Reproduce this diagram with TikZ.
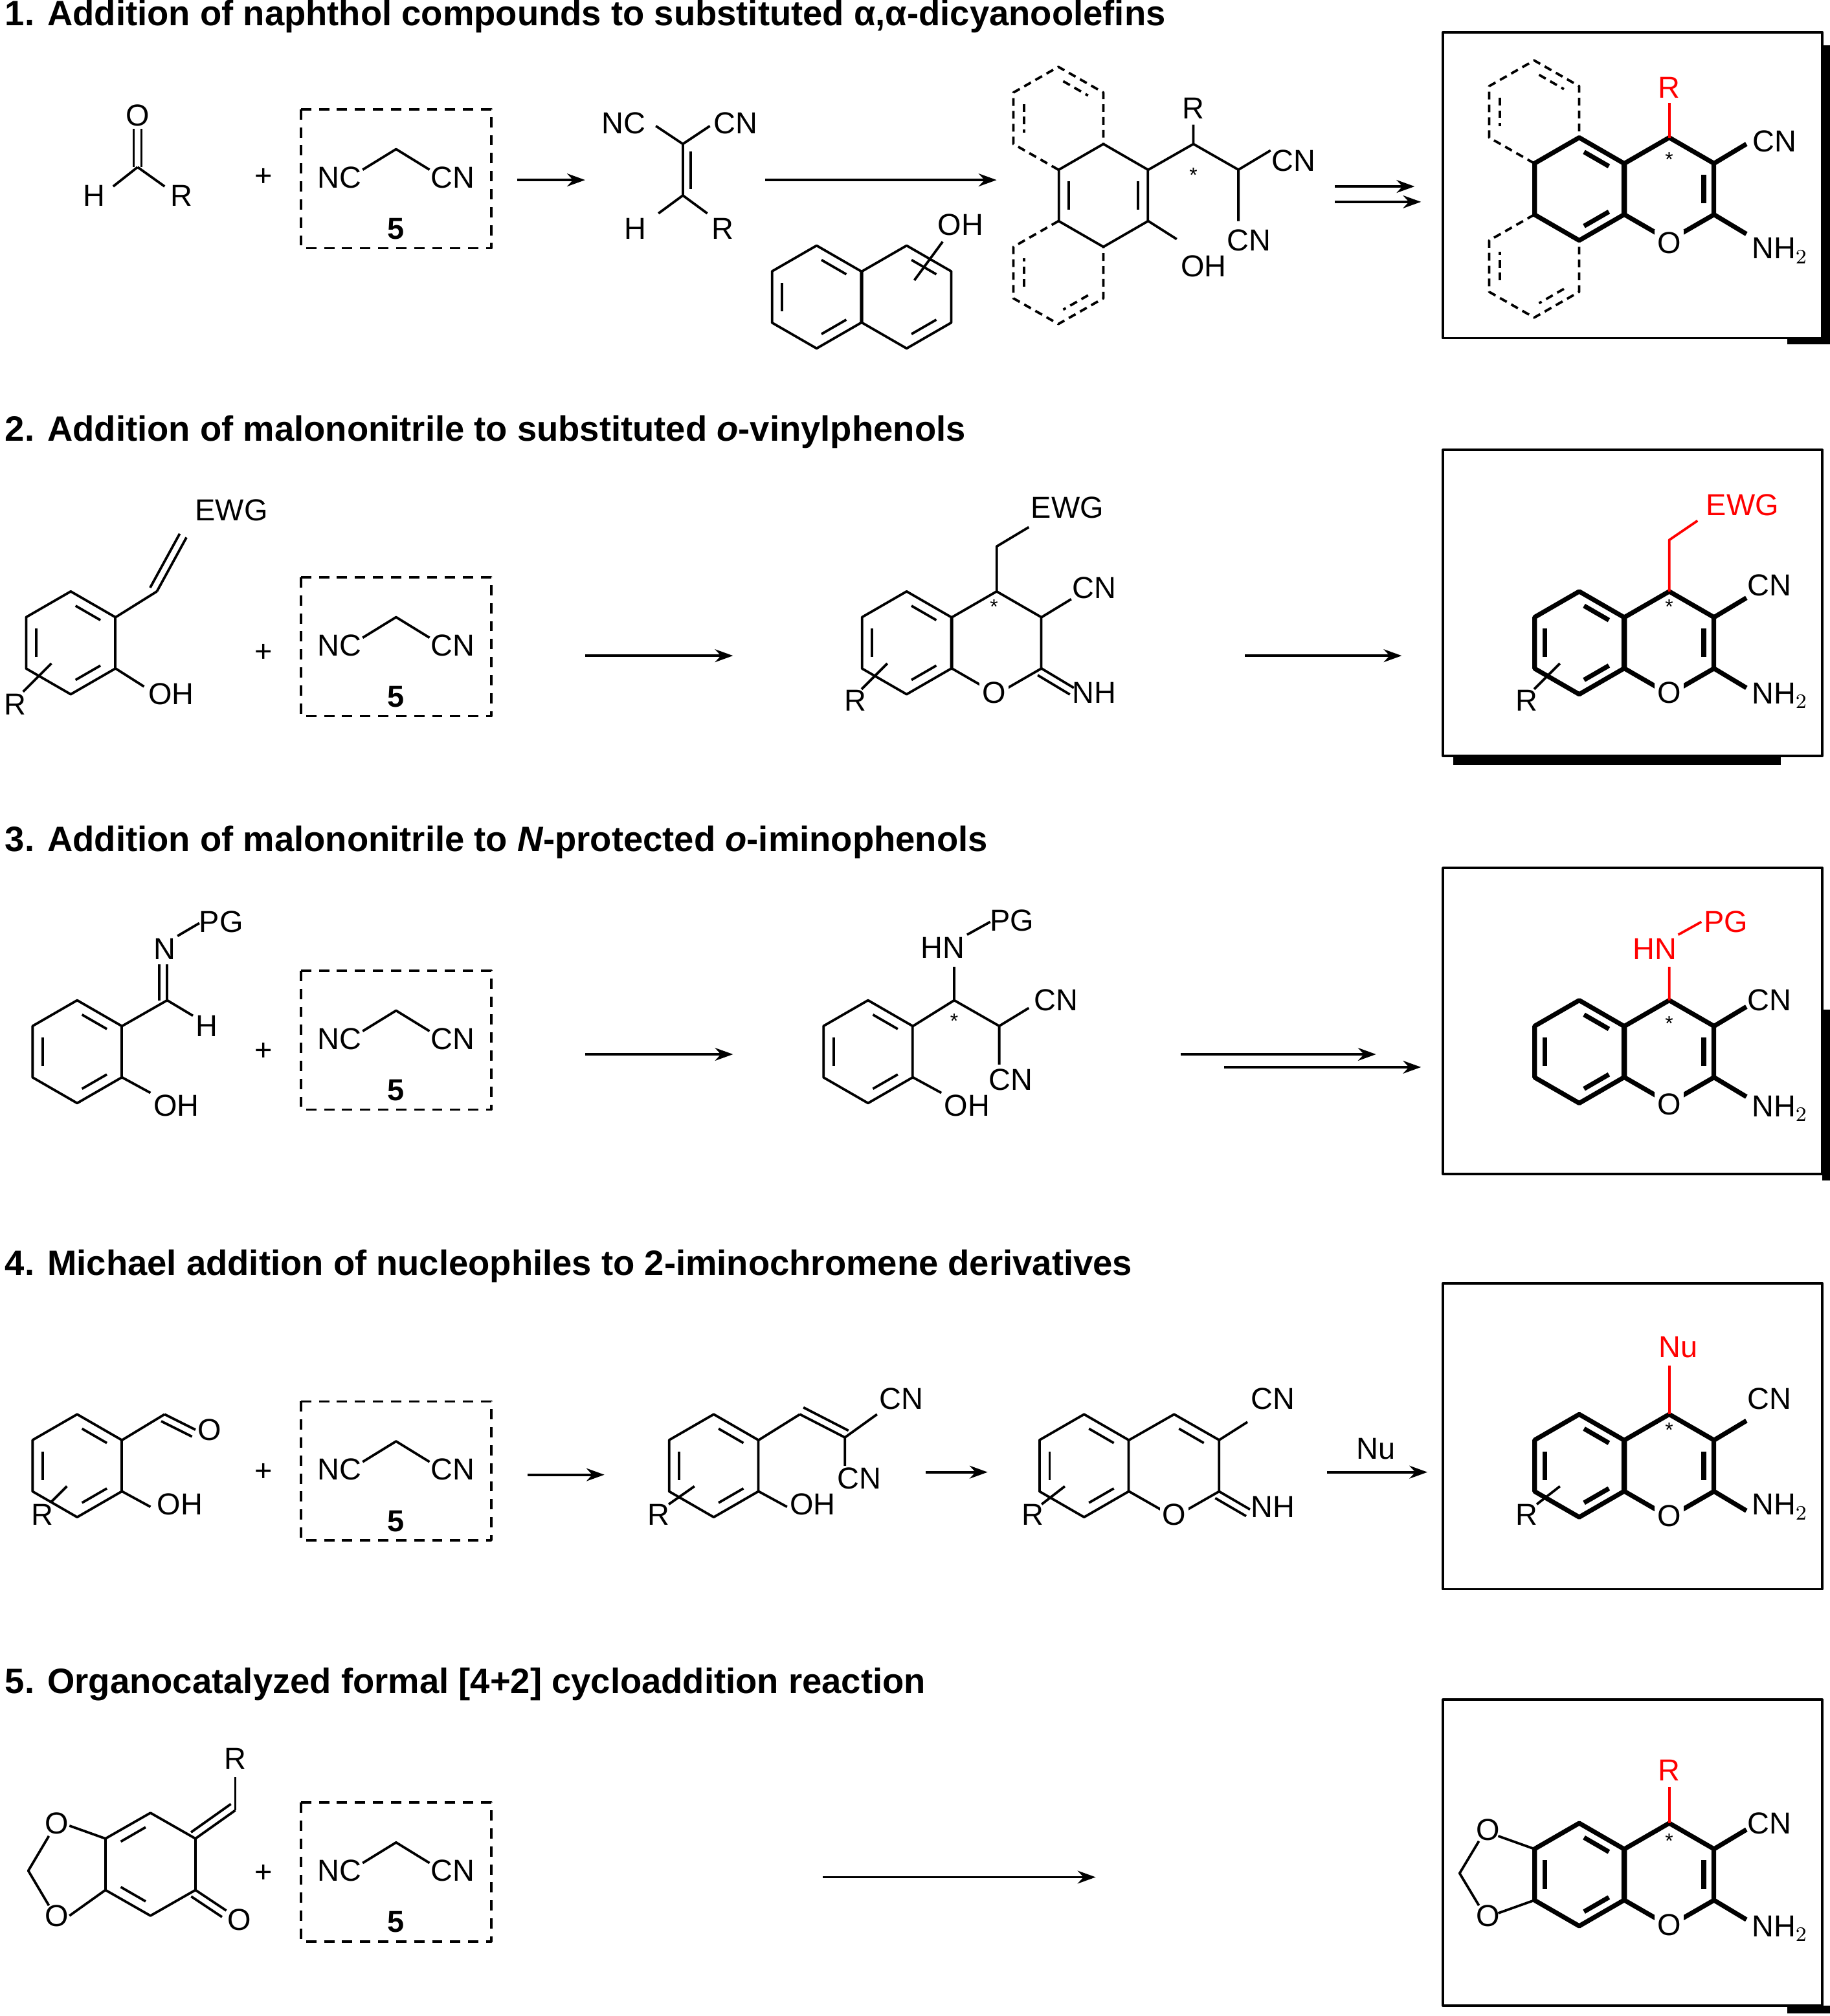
\documentclass[tikz,border=0pt]{standalone}
\usepackage{fontspec}
\setmainfont{Liberation Sans}
\usetikzlibrary{calc,arrows.meta}
\newcommand\hx[3][]{\draw[#1] ($(#2,#3)+(-90:40)$) -- ($(#2,#3)+(-30:40)$) -- ($(#2,#3)+(30:40)$) -- ($(#2,#3)+(90:40)$) -- ($(#2,#3)+(150:40)$) -- ($(#2,#3)+(210:40)$) -- cycle;}
\newcommand\ib[5][]{\path (#2,#3) ++(#4:31) coordinate (ibp) (#2,#3) ++(#5:31) coordinate (ibq); \draw[#1] ($(ibp)!.14!(ibq)$) -- ($(ibp)!.86!(ibq)$);}
\newcommand\db[4][]{\draw[#1] (#2)--(#3); \draw[#1] ($(#2)!#4!90:(#3)$) -- ($(#3)!#4!-90:(#2)$);}
\newcommand\lab[5][]{\node[lbl,#1] (#2) at (#3,#4) {#5};}
\newcommand\mal[2]{%
  \draw[dashed,dash pattern=on 4pt off 3pt] (234,#2-53) rectangle (382,#2+55);
  \draw (282,#2-6)--(308,#2-22)--(334,#2-6);
  \lab{#1nc}{264}{#2}{NC}\lab{#1cn}{352}{#2}{CN}\lab[font=\fontsize{11.8}{13}\selectfont\bfseries]{#1five}{308}{#2+40}{5}}
\begin{document}
\begin{tikzpicture}[x=0.5pt,y=-0.5pt,line width=0.95pt,line join=round,
  lbl/.style={inner sep=1pt,font=\fontsize{11.8}{13}\selectfont},
  ttl/.style={anchor=west,inner sep=0pt,font=\fontsize{13.7}{15}\selectfont\bfseries},
  arr/.style={-{Stealth[length=7pt,width=5pt]}},
  bold/.style={line width=1.8pt},
  red/.style={color=red},
  dsh/.style={dashed,dash pattern=on 3pt off 2pt},
  star/.style={inner sep=0pt,font=\fontsize{8}{9}\selectfont}]
\useasboundingbox (0,0) rectangle (1423,1568);
% titles
\node[ttl] (t1) at (3,13) {1. Addition of naphthol compounds to substituted α,α-dicyanoolefins};
\node[ttl] (t2) at (3,336) {2. Addition of malononitrile to substituted \textit{o}-vinylphenols};
\node[ttl] (t3) at (3,655) {3. Addition of malononitrile to \textit{N}-protected \textit{o}-iminophenols};
\node[ttl] (t4) at (3,985) {4. Michael addition of nucleophiles to 2-iminochromene derivatives};
\node[ttl] (t5) at (3,1310) {5. Organocatalyzed formal [4+2] cycloaddition reaction};
% boxes
\foreach \y in {25,350,675,998,1322} \draw (1122,\y) rectangle (1417,\y+238);
\fill (1417,35) rectangle (1423,268); \fill (1390,263) rectangle (1423,268);
\fill (1130,589) rectangle (1385,595);
\fill (1417,785) rectangle (1423,918);
\fill (1390,1560) rectangle (1423,1566);
%================ ROW 1
\draw (107,130)--(88,145) (107,130)--(128,145);
\draw (104,130)--(104,100) (110,130)--(110,100);
\lab{a1o}{107}{90}{O}\lab{a1h}{73}{152}{H}\lab{a1r}{141}{152}{R}
\node[lbl] (p1) at (205,138) {+};
\mal{m1}{138}
\draw[arr] (402,140)--(455,140);
\draw (531,112)--(531,152); \draw (537,118)--(537,147);
\draw (531,112)--(510,98) (531,112)--(552,98) (531,152)--(512,166) (531,152)--(550,166);
\lab{b1nc}{485}{96}{NC}\lab{b1cn}{572}{96}{CN}\lab{b1h}{494}{178}{H}\lab{b1r}{562}{178}{R}
\draw[arr] (595,140)--(775,140);
\hx{635}{231}\hx{705}{231}
\ib{635}{231}{150}{210}\ib{635}{231}{-90}{-30}\ib{635}{231}{30}{90}
\ib{705}{231}{-90}{-30}\ib{705}{231}{30}{90}
\draw (711,218)--(733,188);
\lab{n1oh}{747}{175}{OH}
% phenanthrene intermediate
\hx{858}{152}
\ib{858}{152}{-30}{30}\ib{858}{152}{150}{210}
\draw[dsh] (823,132)--(788,112)--(788,72)--(823,52)--(858,72)--(858,112);
\ib[dsh]{823}{92}{210}{150}\ib[dsh]{823}{92}{-90}{-30}
\draw[dsh] (823,172)--(788,192)--(788,232)--(823,252)--(858,232)--(858,192);
\ib[dsh]{823}{212}{150}{210}\ib[dsh]{823}{212}{30}{90}
\draw (893,132)--(928,112)--(963,132)--(988,117) (928,112)--(928,97) (963,132)--(963,172) (893,172)--(915,186);
\lab{i1r}{928}{84}{R}\lab{i1cn}{1006}{125}{CN}\lab{i1cn2}{971}{187}{CN}\lab{i1oh}{936}{207}{OH}
\node[star] (i1s) at (928,136) {*};
\draw[arr] (1038,145)--(1100,145); \draw[arr] (1038,157)--(1105,157);
% product 1
\begin{scope}[bold]
\hx{1228}{147}\hx{1298}{147}
\ib{1228}{147}{-90}{-30}\ib{1228}{147}{30}{90}\ib{1298}{147}{-30}{30}
\draw (1333,127)--(1358,112) (1333,167)--(1358,182);
\end{scope}
\draw[dsh] (1193,127)--(1158,107)--(1158,67)--(1193,47)--(1228,67)--(1228,107);
\ib[dsh]{1193}{87}{210}{150}\ib[dsh]{1193}{87}{-90}{-30}
\draw[dsh] (1193,167)--(1158,187)--(1158,227)--(1193,247)--(1228,227)--(1228,187);
\ib[dsh]{1193}{207}{150}{210}\ib[dsh]{1193}{207}{30}{90}
\draw[red] (1298,107)--(1298,80);
\lab[red]{q1r}{1298}{68}{R}\lab[fill=white]{q1o}{1298}{189}{O}\lab{q1cn}{1380}{110}{CN}\lab{q1nh}{1384}{195}{NH$_2$}
\node[star] (q1s) at (1298,124) {*};
%================ ROW 2
\hx{55}{500}\ib{55}{500}{150}{210}\ib{55}{500}{-90}{-30}\ib{55}{500}{30}{90}
\draw (90,480)--(122,460); \db{122,460}{145,418}{3pt}
\draw (40,516)--(18,538) (90,520)--(112,534);
\lab{a2ewg}{180}{397}{EWG}\lab{a2r}{12}{548}{R}\lab{a2oh}{133}{540}{OH}
\node[lbl] (p2) at (205,508) {+};
\mal{m2}{502}
\draw[arr] (455,510)--(570,510);
\hx{705}{500}\ib{705}{500}{150}{210}\ib{705}{500}{-90}{-30}\ib{705}{500}{30}{90}
\hx{775}{500}
\draw (775,460)--(775,425)--(800,410) (810,480)--(833,466) (690,516)--(670,536);
\db{810,520}{835,535}{-3pt}
\lab{i2ewg}{830}{395}{EWG}\lab{i2cn}{851}{457}{CN}\lab{i2nh}{851}{539}{NH}\lab[fill=white]{i2o}{773}{539}{O}\lab{i2r}{665}{545}{R}
\node[star] (i2s) at (773,472) {*};
\draw[arr] (968,510)--(1090,510);
\begin{scope}[bold]
\hx{1228}{500}\hx{1298}{500}
\ib{1228}{500}{150}{210}\ib{1228}{500}{-90}{-30}\ib{1228}{500}{30}{90}\ib{1298}{500}{-30}{30}
\draw (1333,480)--(1358,465) (1333,520)--(1358,535);
\end{scope}
\draw (1213,516)--(1193,536);
\draw[red] (1298,460)--(1298,420)--(1320,405);
\lab[red]{q2ewg}{1355}{393}{EWG}\lab{q2cn}{1376}{455}{CN}\lab{q2nh}{1384}{541}{NH$_2$}\lab[fill=white]{q2o}{1298}{539}{O}\lab{q2r}{1187}{545}{R}
\node[star] (q2s) at (1298,472) {*};
%================ ROW 3
\hx{60}{818}\ib{60}{818}{150}{210}\ib{60}{818}{-90}{-30}\ib{60}{818}{30}{90}
\draw (95,798)--(130,778)--(150,790) (95,838)--(117,850) (138,728)--(155,718);
\db{130,778}{130,750}{3pt}
\lab{a3n}{128}{738}{N}\lab{a3pg}{172}{717}{PG}\lab{a3h}{161}{798}{H}\lab{a3oh}{137}{860}{OH}
\node[lbl] (p3) at (205,818) {+};
\mal{m3}{808}
\draw[arr] (455,820)--(570,820);
\hx{675}{818}\ib{675}{818}{150}{210}\ib{675}{818}{-90}{-30}\ib{675}{818}{30}{90}
\draw (710,798)--(742,778)--(777,798)--(800,784) (742,778)--(742,752) (777,798)--(777,828) (710,838)--(732,850) (752,727)--(770,717);
\lab{i3hn}{733}{737}{HN}\lab{i3pg}{787}{716}{PG}\lab{i3cn}{821}{778}{CN}\lab{i3cn2}{786}{840}{CN}\lab{i3oh}{752}{860}{OH}
\node[star] (i3s) at (742,794) {*};
\draw[arr] (918,820)--(1070,820); \draw[arr] (952,830)--(1105,830);
\begin{scope}[bold]
\hx{1228}{818}\hx{1298}{818}
\ib{1228}{818}{150}{210}\ib{1228}{818}{-90}{-30}\ib{1228}{818}{30}{90}\ib{1298}{818}{-30}{30}
\draw (1333,798)--(1358,783) (1333,838)--(1358,853);
\end{scope}
\draw[red] (1298,778)--(1298,752) (1305,727)--(1323,717);
\lab[red]{q3hn}{1287}{738}{HN}\lab[red]{q3pg}{1342}{717}{PG}\lab{q3cn}{1376}{778}{CN}\lab{q3nh}{1384}{862}{NH$_2$}\lab[fill=white]{q3o}{1298}{859}{O}
\node[star] (q3s) at (1298,796) {*};
%================ ROW 4
\hx{60}{1140}\ib{60}{1140}{150}{210}\ib{60}{1140}{-90}{-30}\ib{60}{1140}{30}{90}
\draw (95,1120)--(128,1100) (95,1160)--(117,1172) (52,1156)--(40,1168);
\db{128,1100}{152,1112}{-3pt}
\lab{a4o}{163}{1112}{O}\lab{a4r}{33}{1178}{R}\lab{a4oh}{140}{1170}{OH}
\node[lbl] (p4) at (205,1145) {+};
\mal{m4}{1143}
\draw[arr] (410,1147)--(470,1147);
\hx{555}{1140}\ib{555}{1140}{150}{210}\ib{555}{1140}{-90}{-30}\ib{555}{1140}{30}{90}
\draw (590,1120)--(622,1100) (657,1118)--(682,1100) (657,1118)--(657,1140) (590,1160)--(612,1172) (540,1156)--(520,1170);
\db{622,1100}{657,1118}{3pt}
\lab{i4cn}{701}{1088}{CN}\lab{i4cn2}{668}{1150}{CN}\lab{i4oh}{632}{1170}{OH}\lab{i4r}{512}{1178}{R}
\draw[arr] (720,1145)--(768,1145);
\hx{843}{1140}\ib{843}{1140}{150}{210}\ib{843}{1140}{-90}{-30}\ib{843}{1140}{30}{90}
\draw (878,1120)--(913,1100)--(948,1120)--(948,1160)--(913,1180)--(878,1160) (948,1120)--(970,1106) (828,1156)--(810,1170);
\ib{913}{1140}{-90}{-30}
\db{948,1160}{972,1174}{-3pt}
\lab{j4cn}{990}{1088}{CN}\lab{j4nh}{990}{1172}{NH}\lab[fill=white]{j4o}{913}{1178}{O}\lab{j4r}{803}{1178}{R}
\draw[arr] (1032,1145)--(1110,1145);
\lab{nu}{1070}{1127}{Nu}
\begin{scope}[bold]
\hx{1228}{1140}\hx{1298}{1140}
\ib{1228}{1140}{150}{210}\ib{1228}{1140}{-90}{-30}\ib{1228}{1140}{30}{90}\ib{1298}{1140}{-30}{30}
\draw (1333,1120)--(1358,1105) (1333,1160)--(1358,1175);
\end{scope}
\draw (1213,1156)--(1195,1170);
\draw[red] (1298,1100)--(1298,1062);
\lab[red]{q4nu}{1305}{1048}{Nu}\lab{q4cn}{1376}{1088}{CN}\lab{q4nh}{1384}{1172}{NH$_2$}\lab[fill=white]{q4o}{1298}{1179}{O}\lab{q4r}{1187}{1178}{R}
\node[star] (q4s) at (1298,1112) {*};
%================ ROW 5
\draw (117,1410)--(152,1430)--(152,1470)--(117,1490)--(82,1470)--(82,1430)--cycle;
\ib{117}{1450}{210}{-90}\ib{117}{1450}{150}{90}
\draw (82,1430)--(54,1420) (38,1428)--(22,1455)--(38,1482) (54,1490)--(82,1470);
\db{152,1430}{183,1408}{3pt}\draw (183,1408)--(183,1382);
\db{152,1470}{176,1486}{-3pt}
\lab{a5o1}{44}{1418}{O}\lab{a5o2}{44}{1490}{O}\lab{a5r}{183}{1368}{R}\lab{a5o}{186}{1493}{O}
\node[lbl] (p5) at (205,1457) {+};
\mal{m5}{1455}
\draw[arr] (640,1460)--(852,1460);
\begin{scope}[bold]
\hx{1228}{1458}\hx{1298}{1458}
\ib{1228}{1458}{150}{210}\ib{1228}{1458}{-90}{-30}\ib{1228}{1458}{30}{90}\ib{1298}{1458}{-30}{30}
\draw (1333,1438)--(1358,1423) (1333,1478)--(1358,1493);
\end{scope}
\draw (1193,1438)--(1165,1428) (1150,1432)--(1135,1457)--(1150,1482) (1165,1488)--(1193,1478);
\draw[red] (1298,1418)--(1298,1390);
\lab[red]{q5r}{1298}{1377}{R}\lab{q5cn}{1376}{1418}{CN}\lab{q5nh}{1384}{1500}{NH$_2$}\lab[fill=white]{q5o}{1298}{1497}{O}
\lab{q5o1}{1157}{1423}{O}\lab{q5o2}{1157}{1490}{O}
\node[star] (q5s) at (1298,1432) {*};
\end{tikzpicture}
\end{document}
